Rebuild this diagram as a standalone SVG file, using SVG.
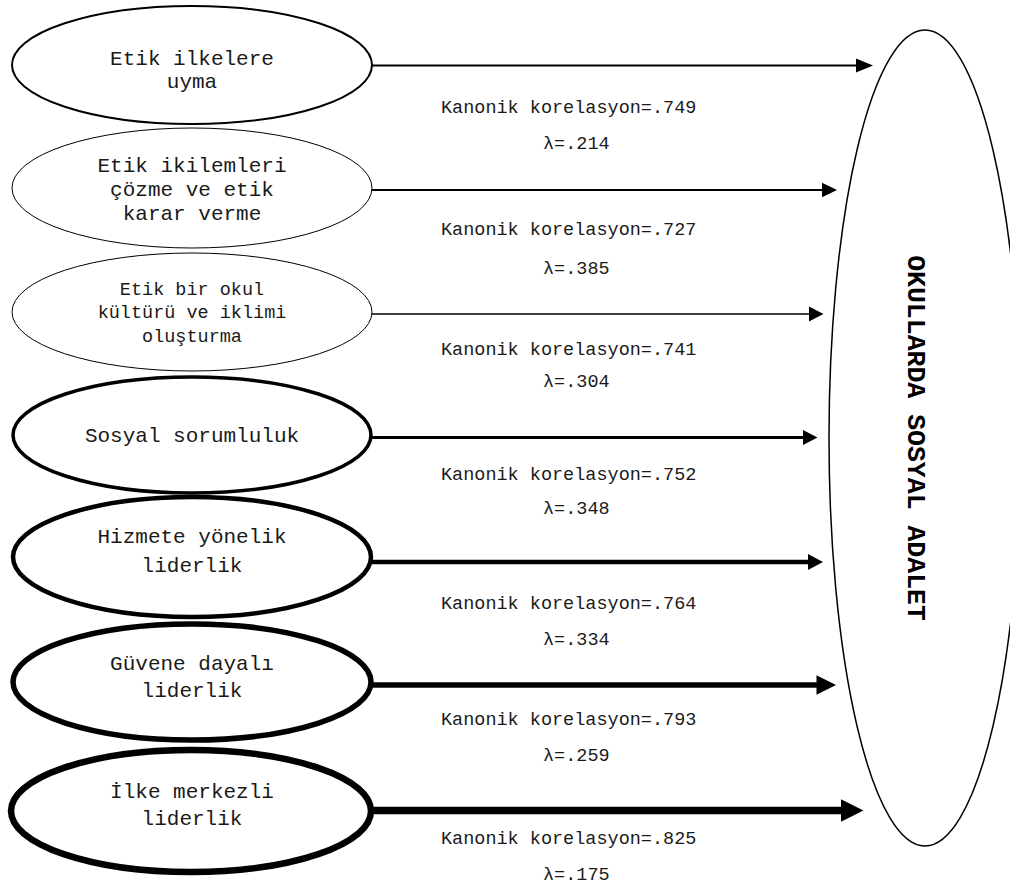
<svg xmlns="http://www.w3.org/2000/svg" width="1010" height="885" viewBox="0 0 1010 885">
<style>
.node{fill:#fff;stroke:#000}
.t{font-family:"Liberation Mono",monospace;font-size:21px;fill:#1a1a1a;text-anchor:middle}
.ts{font-size:18.5px}
.lbl{font-family:"Liberation Mono",monospace;font-size:18.5px;fill:#1a1a1a}
.ttl{font-family:"Liberation Mono",monospace;font-size:26.5px;font-weight:bold;fill:#000;text-anchor:middle}
.ln{stroke:#000;fill:none}
.hd{fill:#000}
</style>
<rect width="1010" height="885" fill="#fff"/>
<g id="target">
<ellipse class="node" cx="925" cy="438" rx="96" ry="408" stroke-width="1.5"/>
<text class="ttl" transform="translate(908,438) rotate(90)">OKULLARDA SOSYAL ADALET</text>
</g>
<g id="connectors">
<line class="ln" x1="372" y1="65.5" x2="858" y2="65.5" stroke-width="2"/>
<polygon class="hd" points="856,58.5 873,65.5 856,72.5"/>
<line class="ln" x1="372" y1="190" x2="823" y2="190" stroke-width="2"/>
<polygon class="hd" points="822,182.7 837,190 822,197.3"/>
<line class="ln" x1="372" y1="314" x2="810" y2="314" stroke-width="1.5"/>
<polygon class="hd" points="809,306.5 823.5,314 809,321.5"/>
<line class="ln" x1="372" y1="437.5" x2="804" y2="437.5" stroke-width="3"/>
<polygon class="hd" points="803,430 817.5,437.5 803,445"/>
<line class="ln" x1="372" y1="562" x2="810" y2="562" stroke-width="4.5"/>
<polygon class="hd" points="808,554 823,562 808,570"/>
<line class="ln" x1="372" y1="685" x2="818" y2="685" stroke-width="5.5"/>
<polygon class="hd" points="816.5,675.3 836,685 816.5,694.7"/>
<line class="ln" x1="372" y1="810.5" x2="843" y2="810.5" stroke-width="7.5"/>
<polygon class="hd" points="841,799.3 863.5,810.5 841,821.7"/>
</g>
<g id="labels">
<text class="lbl" x="441" y="113">Kanonik korelasyon=.749</text>
<text class="lbl" x="543" y="149">λ=.214</text>
<text class="lbl" x="441" y="235">Kanonik korelasyon=.727</text>
<text class="lbl" x="543" y="274">λ=.385</text>
<text class="lbl" x="441" y="355">Kanonik korelasyon=.741</text>
<text class="lbl" x="543" y="387">λ=.304</text>
<text class="lbl" x="441" y="480">Kanonik korelasyon=.752</text>
<text class="lbl" x="543" y="514">λ=.348</text>
<text class="lbl" x="441" y="609">Kanonik korelasyon=.764</text>
<text class="lbl" x="543" y="645">λ=.334</text>
<text class="lbl" x="441" y="725">Kanonik korelasyon=.793</text>
<text class="lbl" x="543" y="761">λ=.259</text>
<text class="lbl" x="441" y="844">Kanonik korelasyon=.825</text>
<text class="lbl" x="543" y="880">λ=.175</text>
</g>
<g id="n1">
<ellipse class="node" cx="192" cy="65" rx="180" ry="59" stroke-width="2"/>
<text class="t" x="192" y="65">Etik ilkelere</text>
<text class="t" x="192" y="87.5">uyma</text>
</g>
<g id="n2">
<ellipse class="node" cx="192" cy="188" rx="180" ry="60" stroke-width="1"/>
<text class="t" x="192" y="172">Etik ikilemleri</text>
<text class="t" x="192" y="196">çözme ve etik</text>
<text class="t" x="192" y="220">karar verme</text>
</g>
<g id="n3">
<ellipse class="node" cx="192" cy="312" rx="180" ry="59" stroke-width="1"/>
<text class="t ts" x="192" y="295">Etik bir okul</text>
<text class="t ts" x="192" y="318">kültürü ve iklimi</text>
<text class="t ts" x="192" y="342">oluşturma</text>
</g>
<g id="n4">
<ellipse class="node" cx="192" cy="435" rx="179" ry="58" stroke-width="3.5"/>
<text class="t" x="192" y="442">Sosyal sorumluluk</text>
</g>
<g id="n5">
<ellipse class="node" cx="192" cy="557" rx="179" ry="60" stroke-width="4.5"/>
<text class="t" x="192" y="543">Hizmete yönelik</text>
<text class="t" x="192" y="571.5">liderlik</text>
</g>
<g id="n6">
<ellipse class="node" cx="192" cy="682" rx="179" ry="58" stroke-width="5.5"/>
<text class="t" x="192" y="670">Güvene dayalı</text>
<text class="t" x="192" y="696.5">liderlik</text>
</g>
<g id="n7">
<ellipse class="node" cx="191" cy="811" rx="180" ry="61" stroke-width="6.5"/>
<text class="t" x="192" y="798">İlke merkezli</text>
<text class="t" x="192" y="825">liderlik</text>
</g>
</svg>
